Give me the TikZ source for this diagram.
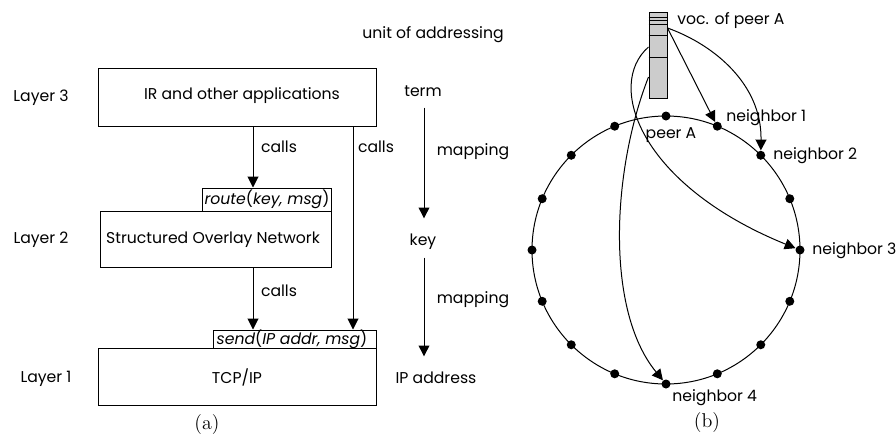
\documentclass[tikz,border=0pt]{standalone}
\usepackage{fontspec}
\setsansfont{Poppins}
\usetikzlibrary{arrows.meta,fit,calc}
\begin{document}
\begin{tikzpicture}[x=0.6pt,y=-0.6pt,
  lbl/.style={font=\sffamily\fontsize{9.4}{11}\selectfont, inner sep=0pt, text height=0.7em, text depth=0pt},
  box/.style={draw, line width=0.6pt, inner sep=0pt},
  arr/.style={line width=0.6pt, -{Triangle[length=6.5pt,width=6.5pt]}},
  dot/.style={circle, fill=black, inner sep=0pt, minimum size=5.4pt},
  sublbl/.style={inner sep=0pt, font=\rmfamily\fontsize{12}{14}\selectfont}
]
\useasboundingbox (0,0) rectangle (896,444);
% ---------- (a) ----------
\node[box, fit={(98,68)(376,126)}] (l3) {};
\node[box, fit={(100,211)(331,267)}] (l2) {};
\node[box, fill=white, fit={(202,188)(331,211)}] (route) {};
\node[box, fit={(98,348)(376,405)}] (l1) {};
\node[box, fill=white, fit={(213,330)(376,348)}] (send) {};
\node[lbl] (t3) at (242,94) {IR and other applications};
\node[lbl] (t2) at (213,238) {Structured Overlay Network};
\node[lbl] (t1) at (237,378) {TCP/IP};
\node[lbl] (troute) at (267,199) {\textit{route}(\textit{key, msg})};
\node[lbl] (tsend) at (292,339) {\textit{send}(\textit{IP addr, msg})};
\node[lbl] (lay3) at (41,96) {Layer 3};
\node[lbl] (lay2) at (41,238) {Layer 2};
\node[lbl] (lay1) at (46,377) {Layer 1};
\coordinate (c1) at (253,0);
\coordinate (c2) at (353,0);
\draw[arr] (l3.south -| c1) -- (route.north -| c1);
\draw[arr] (l2.south -| c1) -- (send.north -| c1);
\draw[arr] (l3.south -| c2) -- (send.north -| c2);
\node[lbl] (calls1) at (279,147) {calls};
\node[lbl] (calls2) at (376,147) {calls};
\node[lbl] (calls3) at (279,291) {calls};
% mapping column
\node[lbl] (unit) at (433,33) {unit of addressing};
\node[lbl] (term) at (423,91) {term};
\node[lbl] (key) at (423,240) {key};
\node[lbl] (ipa) at (436,378) {IP address};
\node[lbl] (map1) at (473,150) {mapping};
\node[lbl] (map2) at (473,298) {mapping};
\coordinate (m) at (424,0);
\draw[arr, shorten <=6.3pt, shorten >=9.3pt] (term.south -| m) -- (key.north -| m);
\draw[arr, shorten <=6.9pt, shorten >=9.3pt] (key.south -| m) -- (ipa.north -| m);
\node[sublbl] (capa) at (207,425) {(a)};
% ---------- (b) ----------
\node[circle, draw, line width=0.6pt, minimum size=160.8pt, inner sep=0pt] (ring) at (666,250) {};
\foreach \a [count=\i] in {0,22.5,...,337.5}
  \node[dot] (d\i) at ($(ring.center)+(\a:80.4pt)$) {};
\node[draw, line width=0.6pt, fill=gray!40, minimum width=10.8pt, minimum height=51.6pt, inner sep=0pt] (voc) at (658,55) {};
\foreach \y in {17,20,24,35,57}
  \draw[line width=0.6pt] (voc.west |- 0,\y) -- (voc.east |- 0,\y);
\coordinate (v1) at (voc.east |- 0,28);
\coordinate (v3) at (voc.west |- 0,47);
\coordinate (v4) at (voc.west |- 0,77);
\draw[arr] (v1) -- (d4);
\draw[arr] (v1) .. controls (715,45) and (762,85) .. (d3);
\draw[arr] (v3) .. controls (605,85) and (640,185) .. (d1);
\draw[arr] (v4) .. controls (612,170) and (605,310) .. (d13);
\node[lbl, anchor=west] (voclbl) at (677,19) {voc. of peer A};
\node[lbl] (peera) at (671,133) {peer A};
\node[lbl, anchor=west] (nb1) at (726,116) {neighbor 1};
\node[lbl, anchor=west] (nb2) at (773,154) {neighbor 2};
\node[lbl, anchor=west] (nb3) at (812,249) {neighbor 3};
\node[lbl, anchor=west] (nb4) at (672,396) {neighbor 4};
\node[sublbl] (capb) at (707,423) {(b)};
\end{tikzpicture}
\end{document}
